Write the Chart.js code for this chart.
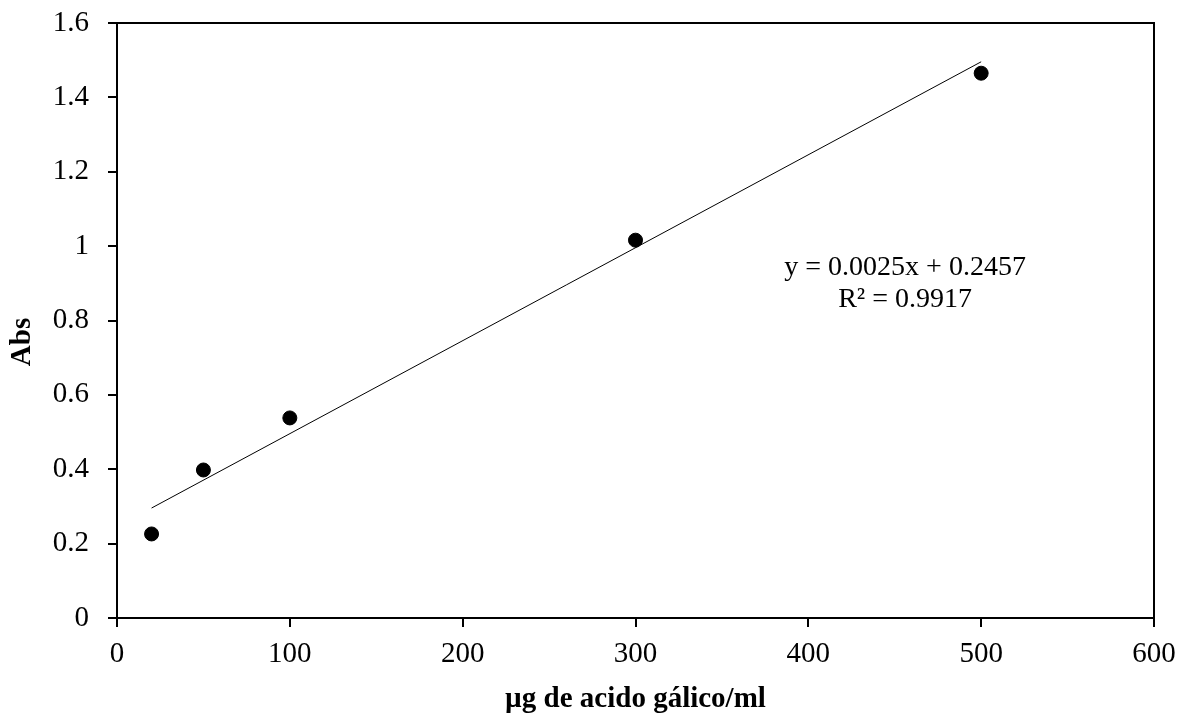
<!DOCTYPE html>
<html>
<head>
<meta charset="utf-8">
<script src="https://cdn.jsdelivr.net/npm/chart.js@4/dist/chart.umd.min.js"></script>
<style>
    html, body { margin: 0; padding: 0; background: #fff; }
    #curvaCalibracion { display: block; }
</style>
</head>
<body>
<canvas id="curvaCalibracion" width="1183" height="719"></canvas>
<script>
    "use strict";

    // Curva de calibración: ácido gálico (µg/ml) vs absorbancia
    var concentraciones = [20, 50, 100, 300, 500];
    var absorbancias = [0.226, 0.398, 0.538, 1.016, 1.465];

    // Línea de tendencia (ajuste lineal de la hoja)
    var pendiente = 0.0025;
    var intercepto = 0.2457;
    var r2 = 0.9917;
    var tendenciaX = [20, 500];

    var ticksX = [0, 100, 200, 300, 400, 500, 600];
    var ticksY = [0, 0.2, 0.4, 0.6, 0.8, 1, 1.2, 1.4, 1.6];

    var fuente = '"Liberation Serif", "Times New Roman", serif';

    var puntos = concentraciones.map(function (x, i) {
        return { x: x, y: absorbancias[i] };
    });
    var tendencia = tendenciaX.map(function (x) {
        return { x: x, y: pendiente * x + intercepto };
    });

    // marco superior/derecho, ecuación y títulos de ejes
    var extras = {
        id: 'extras',
        afterDraw: function (chart) {
            var ctx = chart.ctx;
            var area = chart.chartArea;
            var sx = chart.scales.x;
            var sy = chart.scales.y;

            ctx.save();
            ctx.strokeStyle = '#000';
            ctx.lineWidth = 2;
            ctx.beginPath();
            ctx.moveTo(area.left, area.top);
            ctx.lineTo(area.right, area.top);
            ctx.lineTo(area.right, area.bottom);
            ctx.stroke();

            ctx.fillStyle = '#000';
            ctx.textAlign = 'center';
            ctx.textBaseline = 'middle';
            ctx.font = '28px ' + fuente;
            var ex = sx.getPixelForValue(456);
            ctx.fillText('y = ' + pendiente.toFixed(4) + 'x + ' + intercepto.toFixed(4), ex, sy.getPixelForValue(0.942));
            ctx.fillText('R\u00b2 = ' + r2.toFixed(4), ex, sy.getPixelForValue(0.856));

            ctx.font = 'bold 29px ' + fuente;
            ctx.fillText('\u00b5g de acido g\u00e1lico/ml', (area.left + area.right) / 2, 700);

            ctx.translate(23, 342);
            ctx.rotate(-Math.PI / 2);
            ctx.fillText('Abs', 0, 0);
            ctx.restore();
        }
    };

    var ctx = document.getElementById('curvaCalibracion').getContext('2d');

    new Chart(ctx, {
        type: 'scatter',
        data: {
            datasets: [{
                label: 'Abs',
                data: puntos,
                backgroundColor: '#000',
                borderColor: '#000',
                pointRadius: 7,
                pointHoverRadius: 7,
                clip: false
            }, {
                label: 'Lineal',
                type: 'line',
                data: tendencia,
                borderColor: '#000',
                borderWidth: 1,
                pointRadius: 0,
                fill: false,
                clip: false
            }]
        },
        options: {
            responsive: false,
            animation: false,
            devicePixelRatio: 1,
            layout: { padding: { top: 23, right: 29, left: 0, bottom: 0 } },
            plugins: {
                legend: { display: false },
                tooltip: { enabled: false }
            },
            scales: {
                x: {
                    type: 'linear',
                    min: 0,
                    max: 600,
                    afterBuildTicks: function (scale) {
                        scale.ticks = ticksX.map(function (v) { return { value: v }; });
                    },
                    afterFit: function (scale) {
                        scale.height = 101;
                        scale.paddingLeft = 0;
                        scale.paddingRight = 0;
                    },
                    border: { color: '#000', width: 2 },
                    grid: { drawOnChartArea: false, color: '#000', lineWidth: 2, tickLength: 9 },
                    ticks: {
                        color: '#000',
                        padding: 10,
                        maxRotation: 0,
                        font: { family: fuente, size: 29 },
                        callback: function (v) { return String(v); }
                    }
                },
                y: {
                    type: 'linear',
                    min: 0,
                    max: 1.6,
                    afterBuildTicks: function (scale) {
                        scale.ticks = ticksY.map(function (v) { return { value: v }; });
                    },
                    afterFit: function (scale) {
                        scale.width = 117;
                        scale.paddingTop = 0;
                        scale.paddingBottom = 0;
                    },
                    border: { color: '#000', width: 2 },
                    grid: { drawOnChartArea: false, color: '#000', lineWidth: 2, tickLength: 9 },
                    ticks: {
                        color: '#000',
                        padding: 19,
                        font: { family: fuente, size: 29 },
                        callback: function (v) { return String(+v.toFixed(1)); }
                    }
                }
            }
        },
        plugins: [extras]
    });
</script>
</body>
</html>
